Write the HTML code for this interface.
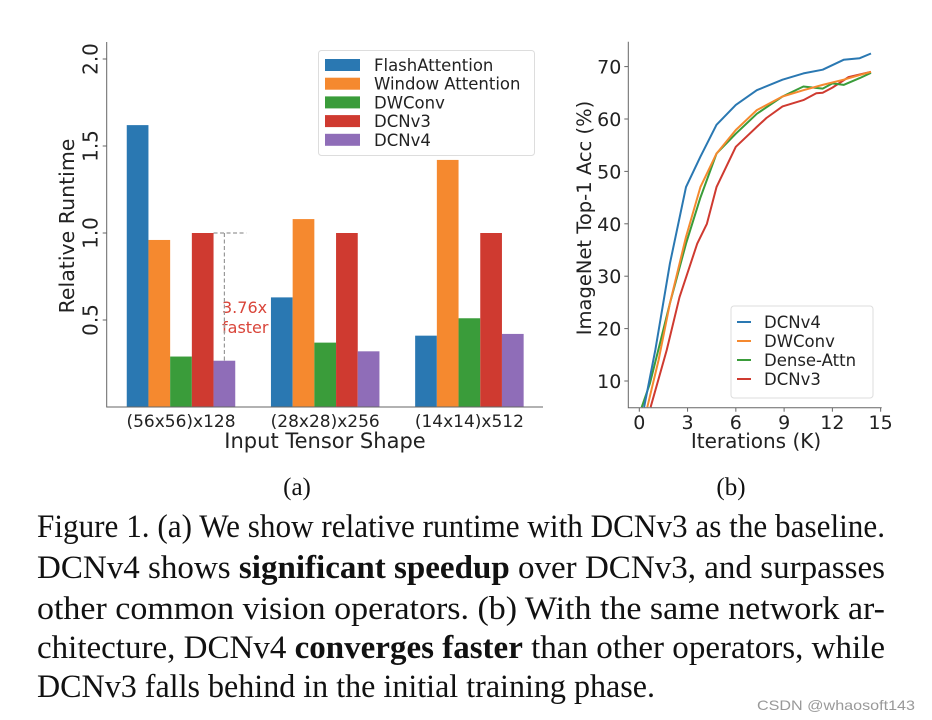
<!DOCTYPE html>
<html><head><meta charset="utf-8"><style>
html,body{margin:0;padding:0;background:#fff;}
svg{display:block;}
</style></head><body>
<svg id="fig" width="932" height="720" xmlns="http://www.w3.org/2000/svg">
<g id="chartA"></g>
<g id="chartB"></g>
<g font-family="Liberation Serif, serif" fill="#111">
<text x="297" y="495" font-size="25" text-anchor="middle">(a)</text>
<text x="731" y="495" font-size="25" text-anchor="middle">(b)</text>
<text x="37" y="537" font-size="33" textLength="848" lengthAdjust="spacingAndGlyphs">Figure 1. (a) We show relative runtime with DCNv3 as the baseline.</text>
<text x="37" y="578" font-size="33" textLength="848" lengthAdjust="spacingAndGlyphs">DCNv4 shows <tspan font-weight="bold">significant speedup</tspan> over DCNv3, and surpasses</text>
<text x="37" y="619" font-size="33" textLength="848" lengthAdjust="spacingAndGlyphs">other common vision operators.  (b) With the same network ar-</text>
<text x="37" y="658" font-size="33" textLength="848" lengthAdjust="spacingAndGlyphs">chitecture, DCNv4 <tspan font-weight="bold">converges faster</tspan> than other operators, while</text>
<text x="37" y="697" font-size="33" textLength="618" lengthAdjust="spacingAndGlyphs">DCNv3 falls behind in the initial training phase.</text>
</g>
<text x="757" y="710" font-family="Liberation Sans, sans-serif" font-size="14" fill="#999" textLength="158" lengthAdjust="spacingAndGlyphs">CSDN @whaosoft143</text>
</svg>
<script>
// ---- Chart A data ----
const categoriesA = ["(56x56)x128", "(28x28)x256", "(14x14)x512"];
const seriesNamesA = ["FlashAttention", "Window Attention", "DWConv", "DCNv3", "DCNv4"];
const flashAttn = [1.62, 0.63, 0.41];
const windowAttn = [0.96, 1.08, 1.42];
const dwconvA = [0.29, 0.37, 0.51];
const dcnv3A = [1.0, 1.0, 1.0];
const dcnv4A = [0.266, 0.32, 0.42];
const yTicksA = [0.5, 1.0, 1.5, 2.0];
// ---- Chart B data ----
const seriesNamesB = ["DCNv4", "DWConv", "Dense-Attn", "DCNv3"];
const xTicksB = [0, 3, 6, 9, 12, 15];
const yTicksB = [10, 20, 30, 40, 50, 60, 70];
const dcnv4X = [0.3, 1, 1.9, 2.9, 3.8, 4.8, 6.0, 7.3, 8.9, 10.2, 11.4, 12.7, 13.7, 14.4];
const dcnv4Y = [5, 16, 32.4, 47, 52.8, 58.9, 62.7, 65.5, 67.5, 68.7, 69.4, 71.3, 71.6, 72.5];
const dwconvX = [0.5, 1.2, 1.9, 2.9, 3.8, 4.8, 6.0, 7.3, 8.9, 10.2, 11.4, 12.7, 14.4];
const dwconvY = [5, 14, 24.8, 37.5, 47, 53.4, 57.9, 61.7, 64.3, 65.5, 66.5, 67.5, 69];
const denseX = [0.15, 0.66, 1.9, 2.9, 3.8, 4.8, 6.0, 7.3, 8.9, 10.2, 11.4, 12.0, 12.7, 13.7, 14.4];
const denseY = [5, 9.5, 24.8, 36.2, 45, 53.4, 57.2, 61, 64.3, 66.2, 65.8, 66.8, 66.5, 67.8, 68.8];
const dcnv3X = [0.7, 1.7, 2.5, 3.6, 4.2, 4.8, 6.0, 7.3, 7.9, 8.9, 10.2, 11.0, 11.4, 12.0, 13.0, 14.4];
const dcnv3Y = [5, 15.9, 26, 36.2, 40, 47, 54.7, 58.5, 60.2, 62.4, 63.6, 64.9, 65, 66, 68, 69];

const NS = "http://www.w3.org/2000/svg";
function mk(parent, tag, attrs, text) {
  const e = document.createElementNS(NS, tag);
  for (const k in attrs) e.setAttribute(k, attrs[k]);
  if (text !== undefined) e.textContent = text;
  parent.appendChild(e);
  return e;
}
const colors = ["#2a78b2", "#f5892f", "#3a9c3a", "#cf3a30", "#8f6db8"];
const SANS = "DejaVu Sans, Liberation Sans, sans-serif";

// ---------- Chart A ----------
(function () {
  const g = document.getElementById("chartA");
  const L = 106.7, R = 543, B = 407, T = 42;
  const xA = v => 181 + v * 144.2;
  const yA = v => B - v * 174;
  const barW = 21.7;
  const ann = mk(g, "text", { x: 222, y: 313, "font-family": SANS, "font-size": 16, fill: "#d9453a" }, "3.76x");
  
  
  const ann2 = mk(g, "text", { x: 222, y: 333, "font-family": SANS, "font-size": 16, fill: "#d9453a" }, "faster");
  
  
  const dl = mk(g, "path", { d: `M${xA(0) + 1.5 * barW} ${yA(dcnv3A[0])}H${xA(0) + 2.5 * barW + 11}M${xA(0) + 2 * barW} ${yA(dcnv3A[0])}V${yA(dcnv4A[0])}`, stroke: "#999", "stroke-width": 1.2, "stroke-dasharray": "4 2.5", fill: "none" });
  
  
  const all = [flashAttn, windowAttn, dwconvA, dcnv3A, dcnv4A];
  all.forEach((s, si) => {
    s.forEach((v, ci) => {
      const x = xA(ci) + (si - 2.5) * barW;
      const r = mk(g, "rect", { x: x, y: yA(v), width: barW, height: B - yA(v), fill: colors[si] });
      
      
    });
  });
  const ax = mk(g, "path", { d: `M${L} ${T}V${B}H${R}`, stroke: "#666", "stroke-width": 1, fill: "none" });
  
  
  yTicksA.forEach(t => {
    const y = yA(t);
    const tk = mk(g, "line", { x1: L - 4, x2: L, y1: y, y2: y, stroke: "#666" });
    
    
    const lb = mk(g, "text", { x: 0, y: 0, transform: `translate(${L - 9},${y}) rotate(-90)`, "text-anchor": "middle", "font-family": SANS, "font-size": 20, fill: "#222" }, t.toFixed(1));
    
    
  });
  categoriesA.forEach((c, i) => {
    const lb = mk(g, "text", { x: xA(i), y: 427, "text-anchor": "middle", "font-family": SANS, "font-size": 17, fill: "#222" }, c);
    
    
  });
  const xt = mk(g, "text", { x: 325, y: 448, "text-anchor": "middle", "font-family": SANS, "font-size": 21, fill: "#222" }, "Input Tensor Shape");
  
  
  const yt = mk(g, "text", { x: 0, y: 0, transform: `translate(74,226) rotate(-90)`, "text-anchor": "middle", "font-family": SANS, "font-size": 20.5, fill: "#222" }, "Relative Runtime");
  
  
  const lg = mk(g, "rect", { x: 318.5, y: 50.5, width: 216, height: 105, rx: 3, fill: "#fff", "fill-opacity": 0.8, stroke: "#ddd" });
  
  
  seriesNamesA.forEach((n, i) => {
    const y = 65 + i * 18.7;
    const p = mk(g, "rect", { x: 325, y: y - 6, width: 35, height: 12, fill: colors[i] });
    
    
    const t = mk(g, "text", { x: 374, y: y + 6, "font-family": SANS, "font-size": 16.5, fill: "#222" }, n);
    
    
  });
})();

// ---------- Chart B ----------
(function () {
  const g = document.getElementById("chartB");
  const L = 628.3, R = 881.7, B = 407.7, T = 41.7;
  const xB = v => 639.3 + v * 16.09;
  const yB = v => 381 - (v - 10) * 5.24;
  const cl = mk(g, "clipPath", { id: "clipB" });
  mk(cl, "rect", { x: L, y: T - 10, width: R - L + 10, height: B - T + 10 });
  const xs = [dcnv4X, dwconvX, denseX, dcnv3X];
  const ys = [dcnv4Y, dwconvY, denseY, dcnv3Y];
  const lc = ["#2a78b2", "#f5892f", "#3a9c3a", "#cf3a30"];
  [3, 2, 1, 0].forEach(si => {
    const d = xs[si].map((x, i) => (i ? "L" : "M") + xB(x).toFixed(1) + " " + yB(ys[si][i]).toFixed(1)).join("");
    const p = mk(g, "path", { d: d, stroke: lc[si], "stroke-width": 2, fill: "none", "clip-path": "url(#clipB)", "stroke-linejoin": "round" });
    
    
  });
  const ax = mk(g, "path", { d: `M${L} ${T}V${B}H${R}`, stroke: "#666", "stroke-width": 1, fill: "none" });
  
  
  yTicksB.forEach(t => {
    const y = yB(t);
    const tk = mk(g, "line", { x1: L - 4, x2: L, y1: y, y2: y, stroke: "#666" });
    
    
    const lb = mk(g, "text", { x: L - 7, y: y + 7, "text-anchor": "end", "font-family": SANS, "font-size": 19, fill: "#222" }, String(t));
    
    
  });
  xTicksB.forEach(t => {
    const x = xB(t);
    const tk = mk(g, "line", { x1: x, x2: x, y1: B, y2: B + 4, stroke: "#666" });
    
    
    const lb = mk(g, "text", { x: x, y: 429, "text-anchor": "middle", "font-family": SANS, "font-size": 19, fill: "#222" }, String(t));
    
    
  });
  const xt = mk(g, "text", { x: 756, y: 448, "text-anchor": "middle", "font-family": SANS, "font-size": 20, fill: "#222" }, "Iterations (K)");
  
  
  const yt = mk(g, "text", { x: 0, y: 0, transform: `translate(591,218) rotate(-90)`, "text-anchor": "middle", "font-family": SANS, "font-size": 19.5, fill: "#222" }, "ImageNet Top-1 Acc (%)");
  
  
  const lg = mk(g, "rect", { x: 731, y: 306, width: 142, height: 92, rx: 3, fill: "#fff", "fill-opacity": 0.8, stroke: "#ddd" });
  
  
  seriesNamesB.forEach((n, i) => {
    const y = 322 + i * 19;
    const l = mk(g, "line", { x1: 737, x2: 751, y1: y, y2: y, stroke: lc[i], "stroke-width": 2 });
    
    
    const t = mk(g, "text", { x: 764, y: y + 6, "font-family": SANS, "font-size": 16.5, fill: "#222" }, n);
    
    
  });
})();
</script>
</body></html>
